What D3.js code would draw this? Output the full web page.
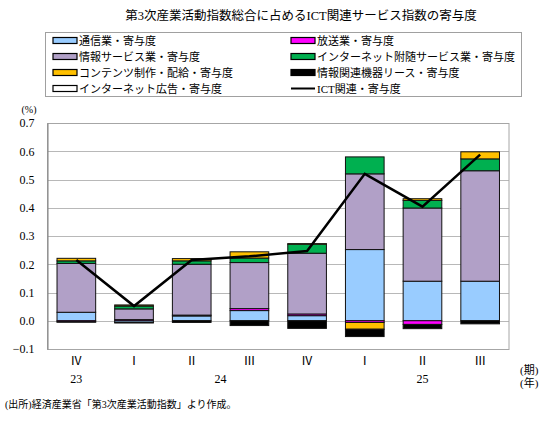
<!DOCTYPE html>
<html>
<head>
<meta charset="utf-8">
<script src="https://cdn.jsdelivr.net/npm/d3@7"></script>
<style>
  body { margin: 0; background: #fff; }
  svg text { font-family: "Liberation Serif", "Noto Sans CJK JP", serif; fill: #000; }
</style>
</head>
<body>
<div id="chart-container"></div>
<script>
// quarters along the x axis, years grouped below them
const quarters = ["Ⅳ", "Ⅰ", "Ⅱ", "Ⅲ", "Ⅳ", "Ⅰ", "Ⅱ", "Ⅲ"];
const yearLabels = ["23", "24", "25"];
const yearFirst = [0, 1, 5];
const yearLast = [0, 4, 7];

// contributions (%)
const tsushin = [0.030, -0.006, 0.017, 0.036, 0.018, 0.252, 0.140, 0.140];
const hoso = [-0.004, 0.004, 0.003, 0.007, 0.006, -0.006, -0.013, 0.000];
const joho = [0.173, 0.038, 0.180, 0.163, 0.215, 0.268, 0.259, 0.391];
const netFuzui = [0.009, 0.010, 0.012, 0.016, 0.032, 0.060, 0.027, 0.042];
const contents = [0.009, 0.004, 0.008, 0.022, 0.002, -0.024, 0.006, 0.025];
const lease = [-0.001, -0.002, -0.006, -0.017, -0.027, -0.026, -0.015, -0.011];
const netAd = [0, 0, 0, 0, 0, 0, 0, 0];
const ictTotal = [0.215, 0.052, 0.215, 0.228, 0.247, 0.520, 0.404, 0.588];

const yTicks = [-0.1, 0.0, 0.1, 0.2, 0.3, 0.4, 0.5, 0.6, 0.7];

const seriesNames = [
    "通信業・寄与度", "放送業・寄与度", "情報サービス業・寄与度",
    "インターネット附随サービス業・寄与度", "コンテンツ制作・配給・寄与度",
    "情報関連機器リース・寄与度", "インターネット広告・寄与度"
];
const seriesValues = [tsushin, hoso, joho, netFuzui, contents, lease, netAd];
const seriesColors = ["#99CCFF", "#FF00FF", "#B1A0C7", "#00B050", "#FFC000", "#000000", "#FFFFFF"];
const lineName = "ICT関連・寄与度";

const width = 547;
const height = 421;
const plot = { left: 47.5, right: 509, top: 123, bottom: 349 };

const svg = d3.select("#chart-container")
    .append("svg")
    .attr("width", width)
    .attr("height", height);

// title
svg.append("text")
    .attr("x", 301)
    .attr("y", 19.5)
    .attr("text-anchor", "middle")
    .style("font-size", "12.5px")
    .text("第3次産業活動指数総合に占めるICT関連サービス指数の寄与度");

// legend box
const legend = svg.append("g");
legend.append("rect")
    .attr("x", 45.5)
    .attr("y", 32.5)
    .attr("width", 476)
    .attr("height", 64)
    .attr("fill", "none")
    .attr("stroke", "#A0A0A0");

const legendItems = seriesNames.map((name, i) => ({ name, color: seriesColors[i], line: false }));
legendItems.push({ name: lineName, color: "#000", line: true });

// two columns, filled row by row
legendItems.forEach((d, i) => {
    const col = i % 2;
    const row = Math.floor(i / 2);
    const sx = col === 0 ? 53 : 291;
    const cy = 40.5 + row * 16;
    if (d.line) {
        legend.append("line")
            .attr("x1", sx).attr("x2", sx + 24)
            .attr("y1", cy).attr("y2", cy)
            .attr("stroke", "#000")
            .attr("stroke-width", 2);
    } else {
        legend.append("rect")
            .attr("x", sx).attr("y", cy - 3)
            .attr("width", 24).attr("height", 6)
            .attr("fill", d.color)
            .attr("stroke", "#000")
            .attr("stroke-width", 1.2);
    }
    legend.append("text")
        .attr("x", sx + 26)
        .attr("y", cy + 4)
        .style("font-size", "11px")
        .text(d.name);
});

// scales
const xScale = d3.scaleBand()
    .domain(d3.range(quarters.length))
    .range([plot.left, plot.right])
    .paddingInner(0.33)
    .paddingOuter(0.165);

const yScale = d3.scaleLinear()
    .domain([-0.1, 0.7])
    .range([plot.bottom, plot.top]);

// gridlines
svg.append("g")
    .selectAll("line")
    .data(yTicks)
    .enter()
    .append("line")
    .attr("x1", plot.left)
    .attr("x2", plot.right)
    .attr("y1", (d) => Math.round(yScale(d)) + 0.5)
    .attr("y2", (d) => Math.round(yScale(d)) + 0.5)
    .attr("stroke", "#B8B8B8");

// plot border
svg.append("rect")
    .attr("x", plot.left)
    .attr("y", Math.round(plot.top) + 0.5)
    .attr("width", plot.right - plot.left)
    .attr("height", plot.bottom - plot.top)
    .attr("fill", "none")
    .attr("stroke", "#A6A6A6");

// y axis
const yAxis = svg.append("g")
    .attr("transform", `translate(${plot.left},0)`)
    .call(d3.axisLeft(yScale).tickValues(yTicks).tickSize(0).tickPadding(13)
        .tickFormat((d) => d < 0 ? "−" + d3.format(".1f")(-d) : d3.format(".1f")(d)));
yAxis.select(".domain").attr("stroke", "#808080");
yAxis.selectAll("text")
    .style("font-size", "12px")
    .style("font-family", "'Liberation Serif', serif");

svg.append("text")
    .attr("x", 29)
    .attr("y", 113)
    .attr("text-anchor", "middle")
    .style("font-size", "10px")
    .text("(%)");

// stacked bars
const table = quarters.map((q, i) => {
    const row = { index: i };
    seriesNames.forEach((name, k) => { row[name] = seriesValues[k][i]; });
    return row;
});

const stacked = d3.stack()
    .keys(seriesNames)
    .offset(d3.stackOffsetDiverging)(table);

svg.append("g")
    .selectAll("g")
    .data(stacked)
    .enter()
    .append("g")
    .attr("fill", (d, i) => seriesColors[i])
    .selectAll("rect")
    .data((d) => d.filter((p) => p[1] !== p[0]))
    .enter()
    .append("rect")
    .attr("x", (d) => xScale(d.data.index))
    .attr("y", (d) => yScale(Math.max(d[0], d[1])))
    .attr("width", xScale.bandwidth())
    .attr("height", (d) => Math.abs(yScale(d[0]) - yScale(d[1])))
    .attr("stroke", "#111")
    .attr("stroke-width", 1);

// ICT total line
const line = d3.line()
    .x((d, i) => xScale(i) + xScale.bandwidth() / 2)
    .y((d) => yScale(d));

svg.append("path")
    .datum(ictTotal)
    .attr("d", line)
    .attr("fill", "none")
    .attr("stroke", "#000")
    .attr("stroke-width", 2.5);

// x axis labels
svg.append("g")
    .selectAll("text")
    .data(quarters)
    .enter()
    .append("text")
    .attr("x", (d, i) => xScale(i) + xScale.bandwidth() / 2)
    .attr("y", 364.5)
    .attr("text-anchor", "middle")
    .style("font-size", "12px")
    .text((d) => d);

svg.append("g")
    .selectAll("text")
    .data(yearLabels)
    .enter()
    .append("text")
    .attr("x", (d, i) => (xScale(yearFirst[i]) + xScale(yearLast[i]) + xScale.bandwidth()) / 2)
    .attr("y", 382.5)
    .attr("text-anchor", "middle")
    .style("font-size", "12px")
    .text((d) => d);

svg.append("text")
    .attr("x", 520)
    .attr("y", 374)
    .style("font-size", "11px")
    .text("(期)");

svg.append("text")
    .attr("x", 520)
    .attr("y", 387)
    .style("font-size", "11px")
    .text("(年)");

// source note
svg.append("text")
    .attr("x", 5)
    .attr("y", 408)
    .style("font-size", "10px")
    .text("(出所)経済産業省「第3次産業活動指数」より作成。");
</script>
</body>
</html>
